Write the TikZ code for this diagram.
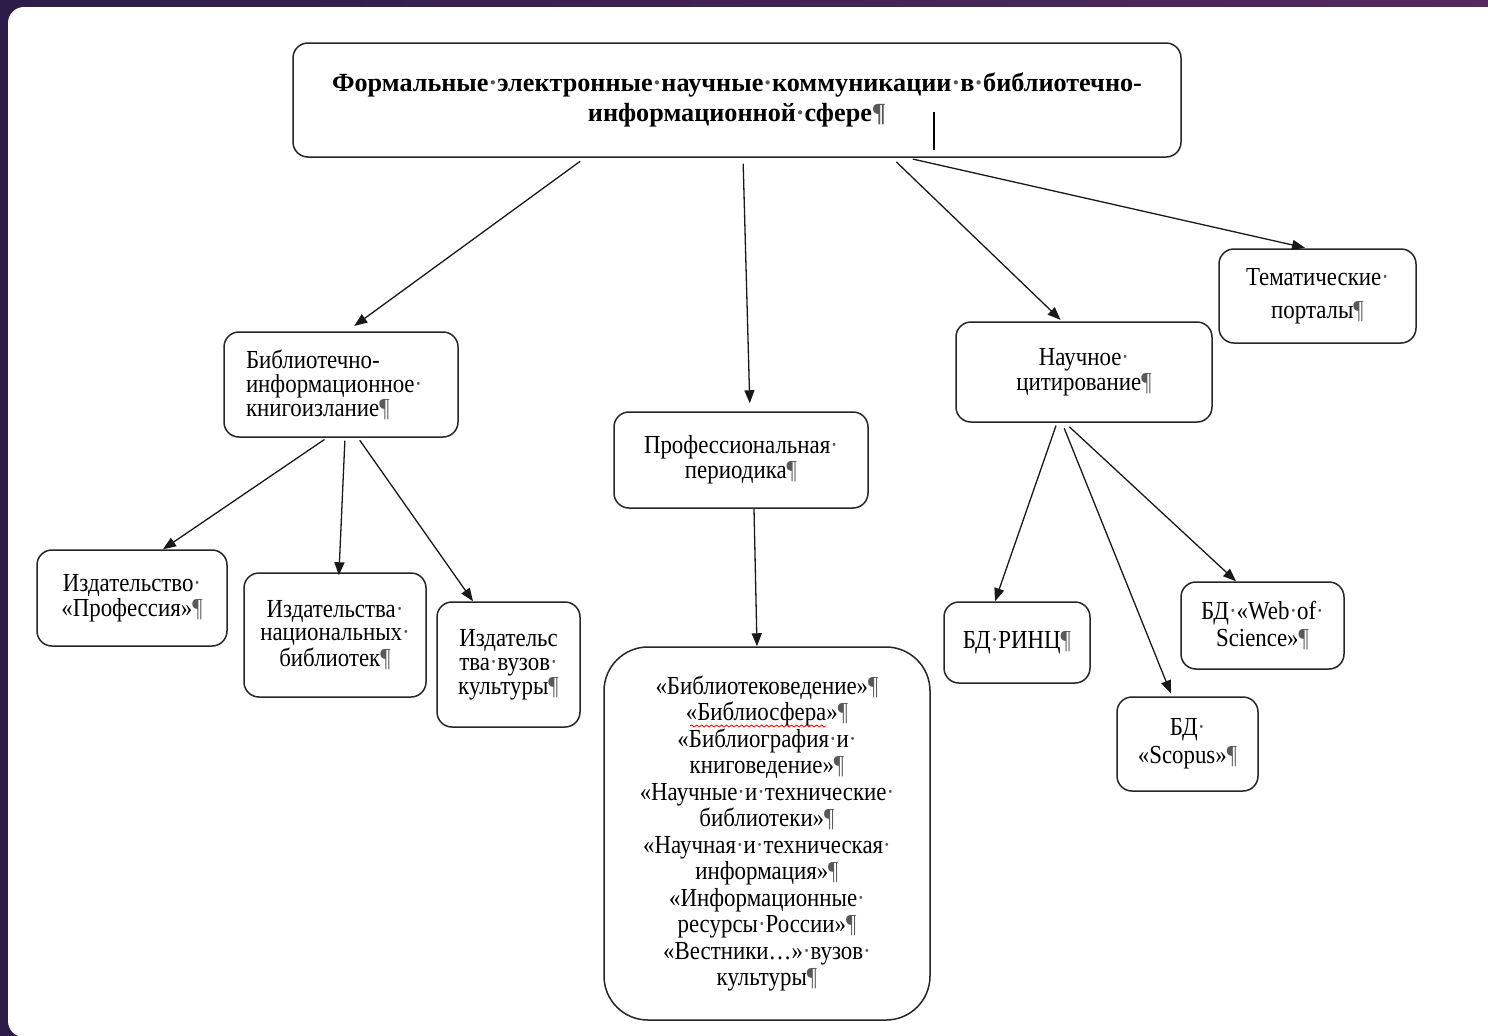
\documentclass[tikz,border=0pt]{standalone}
\usepackage{fontspec}
\setmainfont{Liberation Serif}[FakeStretch=0.88]
\newfontfamily\ttlfont{Liberation Serif}
\usetikzlibrary{arrows.meta,decorations.pathmorphing}
\definecolor{pilc}{gray}{0.35}
\definecolor{bgl}{RGB}{45,28,72}
\definecolor{bgr}{RGB}{84,42,96}
\newcommand\pmark{{\color{pilc}¶}}
\newcommand\sdot{{\color{pilc}·}}
\begin{document}
\begin{tikzpicture}[x=0.5pt,y=-0.5pt,
  box/.style={draw=black!85, line width=0.75pt, rounded corners=7.5pt, fill=white,
    inner sep=0pt, align=center, font=\fontsize{13}{13}\selectfont},
  arr/.style={-{Triangle[length=6.5pt,width=5pt]}, line width=0.65pt, draw=black!90}]
\useasboundingbox (0,0) rectangle (1488,1035);
\begin{scope}
\clip (0,0) rectangle (1488,1035);
\shade[left color=bgl, right color=bgr] (0,0) rectangle (1488,1035);
\fill[white, rounded corners=8pt] (8,7) rectangle (1530,1037);
\end{scope}

% nodes
\node[box, minimum width=444pt, minimum height=57pt, font=\ttlfont\bfseries\fontsize{13.1}{15}\selectfont]
  (top) at (737,100) {Формальные\sdot электронные\sdot научные\sdot коммуникации\sdot в\sdot библиотечно-\\информационной\sdot сфере\pmark};
\node[box, minimum width=117pt, minimum height=52.5pt, align=left, text width=95pt, font=\fontsize{13}{12}\selectfont]
  (bib) at (341,384.5) {Библиотечно-\\информационное\sdot\\книгоизлание\pmark};
\node[box, minimum width=127pt, minimum height=48pt, font=\fontsize{13}{10.5}\selectfont]
  (prof) at (741,460) {Профессиональная\sdot\\периодика\pmark};
\node[box, minimum width=128pt, minimum height=50pt, font=\fontsize{13}{11}\selectfont]
  (cit) at (1084,372) {Научное\sdot\\цитирование\pmark};
\node[box, minimum width=98.5pt, minimum height=47pt, font=\fontsize{13}{16.5}\selectfont]
  (tem) at (1317.5,296) {Тематические\sdot\\порталы\pmark};
\node[box, minimum width=95pt, minimum height=48pt, font=\fontsize{13}{10.5}\selectfont]
  (izd1) at (132,598) {Издательство\sdot\\«Профессия»\pmark};
\node[box, minimum width=91pt, minimum height=62pt, font=\fontsize{13}{11.5}\selectfont]
  (izd2) at (335,635) {Издательства\sdot\\национальных\sdot\\библиотек\pmark};
\node[box, minimum width=71.5pt, minimum height=62.5pt, font=\fontsize{13}{12}\selectfont]
  (izd3) at (508.5,664.5) {Издательс\\тва\sdot вузов\sdot\\культуры\pmark};
\node[box, rounded corners=22pt, minimum width=163pt, minimum height=186.5pt, font=\fontsize{13}{13.25}\selectfont]
  (per) at (767,833.5) {«Библиотековедение»\pmark\\«Библиосфера»\pmark\\«Библиография\sdot и\sdot\\книговедение»\pmark\\«Научные\sdot и\sdot технические\sdot\\библиотеки»\pmark\\«Научная\sdot и\sdot техническая\sdot\\информация»\pmark\\«Информационные\sdot\\ресурсы\sdot России»\pmark\\«Вестники…»\sdot вузов\sdot\\культуры\pmark};
\node[box, minimum width=73pt, minimum height=40.5pt]
  (rinc) at (1017,642.5) {БД\sdot РИНЦ\pmark};
\node[box, minimum width=70.5pt, minimum height=47pt, font=\fontsize{13}{14}\selectfont]
  (scop) at (1187.5,744) {БД\sdot\\«Scopus»\pmark};
\node[box, minimum width=81.5pt, minimum height=43.5pt, font=\fontsize{13}{13.5}\selectfont]
  (wos) at (1262.5,625.5) {БД\sdot«Web\sdot of\sdot\\Science»\pmark};

% cursor and spell-check mark
\draw[line width=0.6pt, black] (934,112) -- (934,150);
\draw[red, line width=0.4pt, decorate, decoration={snake,amplitude=0.5pt,segment length=2.5pt}] (690,726) -- (826,726);

% x helpers
\foreach \xx in {585,347,743,750,892,1062,907,1307,327,163,345,339,358,473,754,757,1057,995,1172,1065,1236}
  \coordinate (x\xx) at (\xx,0);

\draw[arr, shorten <=3pt, shorten >=4.5pt] (top.south -| x585) -- (bib.north -| x347);
\draw[arr, shorten <=3pt, shorten >=4pt] (top.south -| x743) -- (prof.north -| x750);
\draw[arr, shorten <=3pt, shorten >=1pt] (top.south -| x892) -- (cit.north -| x1062);
\draw[arr, shorten <=3pt, shorten >=1pt] (top.south -| x907) -- (tem.north -| x1307);
\draw[arr, shorten <=1.5pt] (bib.south -| x327) -- (izd1.north -| x163);
\draw[arr, shorten <=1.5pt, shorten >=-1.5pt] (bib.south -| x345) -- (izd2.north -| x339);
\draw[arr, shorten <=1.5pt] (bib.south -| x358) -- (izd3.north -| x473);
\draw[arr] (prof.south -| x754) -- (per.north -| x757);
\draw[arr, shorten <=1.5pt] (cit.south -| x1057) -- (rinc.north -| x995);
\draw[arr, shorten <=3pt, shorten >=1.5pt] (cit.south -| x1062) -- (scop.north -| x1172);
\draw[arr, shorten <=3pt] (cit.south -| x1065) -- (wos.north -| x1236);
\end{tikzpicture}
\end{document}
